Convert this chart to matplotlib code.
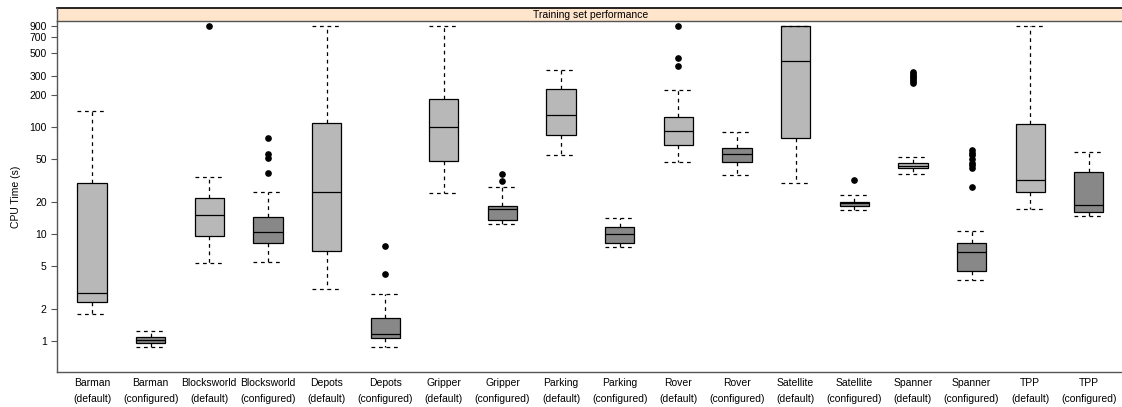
import matplotlib
matplotlib.use("Agg")
import matplotlib.pyplot as plt
from matplotlib.patches import Rectangle

plt.rcParams['font.family'] = ['Liberation Sans', 'DejaVu Sans']

# domains, each run with default and configured settings
domains = ["Barman", "Blocksworld", "Depots", "Gripper", "Parking",
           "Rover", "Satellite", "Spanner", "TPP"]
labels = []
for d in domains:
    labels.append(d + "\n(default)")
    labels.append(d + "\n(configured)")

# box stats (seconds), in label order
whislo = [1.78, 0.867, 5.31, 5.46, 3.03, 0.879, 24.1, 12.5, 55.0,
          7.55, 47.0, 35.7, 30.1, 16.7, 36.7, 3.68, 17.0, 14.7]
q1 = [2.29, 0.945, 9.58, 8.28, 6.93, 1.05, 48.0, 13.5, 84.7,
      8.18, 67.7, 47.3, 79.9, 18.3, 41.3, 4.53, 24.8, 16.1]
med = [2.78, 1.015, 15.1, 10.4, 24.6, 1.16, 100.0, 17.0, 132.0,
       10.0, 93.0, 55.8, 418.0, 19.4, 43.7, 6.73, 32.1, 18.6]
q3 = [30.3, 1.09, 21.7, 14.3, 110.0, 1.63, 184.0, 18.2, 228.0,
      11.6, 126.0, 64.4, 900.0, 20.1, 45.9, 8.28, 107.0, 38.1]
whishi = [142.0, 1.24, 34.2, 24.9, 900.0, 2.72, 900.0, 27.6, 347.0,
          14.0, 222.0, 89.8, 900.0, 23.1, 53.0, 10.7, 900.0, 58.3]
outliers = [
    [], [], [900.0], [80.0, 55.8, 51.2, 37.5], [], [7.67, 4.19], [],
    [36.3, 31.2], [], [], [900.0, 447.0, 373.0], [], [], [31.9],
    [332.0, 318.0, 305.0, 295.0, 285.0, 272.0, 263.0],
    [61.0, 58.0, 55.0, 50.0, 46.5, 44.0, 41.5, 27.7], [], [],
]

light = "#b8b8b8"
dark = "#888888"

fig = plt.figure(figsize=(11.22, 4.07), dpi=100)
ax = fig.add_axes([0.0508, 0.0853, 0.951, 0.8627])

stats = []
for i in range(len(labels)):
    stats.append(dict(whislo=whislo[i], q1=q1[i], med=med[i], q3=q3[i],
                      whishi=whishi[i], fliers=outliers[i]))

pos = list(range(1, len(labels) + 1))
bp = ax.bxp(stats, positions=pos, widths=0.5, capwidths=0.5, patch_artist=True,
            boxprops=dict(edgecolor="black", linewidth=0.9),
            medianprops=dict(color="black", linewidth=0.9),
            whiskerprops=dict(color="black", linewidth=0.9, linestyle=(0, (3, 3))),
            capprops=dict(color="black", linewidth=0.9, linestyle=(0, (3, 3))),
            flierprops=dict(marker="o", markerfacecolor="black",
                            markeredgecolor="black", markersize=3.8))
for i, b in enumerate(bp["boxes"]):
    b.set_facecolor(light if i % 2 == 0 else dark)

ax.set_yscale("log")
ax.set_ylim(0.506, 990)
ax.set_xlim(0.403, 18.6)
yt = [1, 2, 5, 10, 20, 50, 100, 200, 300, 500, 700, 900]
ax.set_yticks(yt)
ax.set_yticklabels([str(v) for v in yt])
ax.minorticks_off()
ax.set_xticks(pos)
ax.set_xticklabels(labels, fontsize=7.5, linespacing=1.8)
ax.tick_params(axis="x", length=0, pad=4)
ax.tick_params(axis="y", labelsize=7.5, length=4, width=0.8, color="#555555")
ax.set_ylabel("CPU Time (s)", fontsize=7.5, labelpad=6)

for s in ["top", "right"]:
    ax.spines[s].set_visible(False)
for s in ["left", "bottom"]:
    ax.spines[s].set_color("#555555")
    ax.spines[s].set_linewidth(1.0)

# strip on top
sax = fig.add_axes([0.0508, 0.948, 0.951, 0.0319])
sax.set_xlim(0, 1)
sax.set_ylim(0, 1)
sax.axis("off")
sax.add_patch(Rectangle((0, 0), 1, 1, facecolor="#ffe5cc", edgecolor="none",
                        transform=sax.transAxes, clip_on=False))
sax.plot([0, 1], [1, 1], color="black", linewidth=1.2, transform=sax.transAxes, clip_on=False)
sax.plot([0, 1], [0, 0], color="#555555", linewidth=1.0, transform=sax.transAxes, clip_on=False)
sax.plot([0, 0], [0, 1], color="#555555", linewidth=1.0, transform=sax.transAxes, clip_on=False)
sax.text(0.5, 0.45, "Training set performance", ha="center", va="center", fontsize=7.5)

fig.savefig("out.png", dpi=100)
